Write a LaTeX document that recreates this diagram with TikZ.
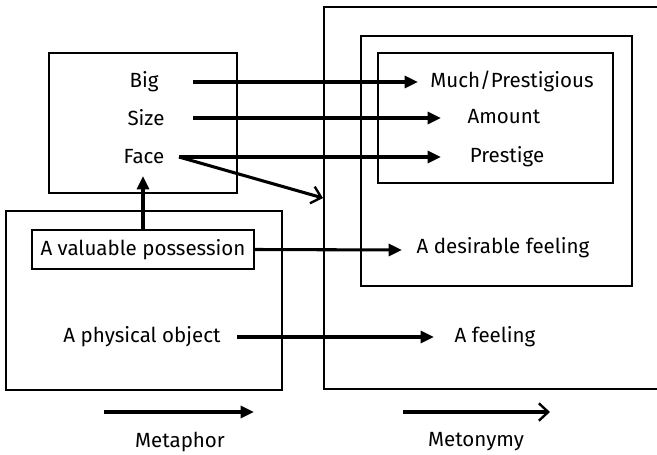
\documentclass[tikz,border=0pt]{standalone}
\usepackage{fontspec}
\setmainfont{Fira Sans}
\usetikzlibrary{arrows.meta}

\tikzset{
    frame/.style={draw, line width=1.2pt},
    lbl/.style={font=\fontsize{15.4}{17}\selectfont, inner sep=1pt},
    arr/.style={line width=2.3pt, -{Triangle[length=10pt, width=9pt]}},
    barb/.style={line width=2.3pt, -{Straight Barb[length=7pt, width=13pt, line width=1.8pt]}}
}

\begin{document}
\begin{tikzpicture}[x=0.75pt, y=-0.75pt]
    \useasboundingbox (0,0) rectangle (657,454);

    % boxes
    \draw[frame] (49,53) rectangle (237,193);
    \draw[frame] (6,211) rectangle (282,390);
    \draw[frame] (665,7) -- (324,7) -- (324,389) -- (665,389);
    \draw[frame] (361,36) rectangle (632,286);
    \draw[frame] (378,53) rectangle (613,183);

    % source side
    \node[lbl] (big) at (144,82) {Big};
    \node[lbl] (size) at (146,118) {Size};
    \node[lbl] (face) at (144,157) {Face};
    \node[lbl, draw, line width=1.2pt, minimum width=222*0.75pt, minimum height=39*0.75pt] (valuable) at (143,249.5) {A valuable possession};
    \node[lbl] (physical) at (142,337) {A physical object};

    % target side
    \node[lbl] (much) at (512,81) {Much/Prestigious};
    \node[lbl] (amount) at (504,117) {Amount};
    \node[lbl] (prestige) at (507,157) {Prestige};
    \node[lbl] (desirable) at (503,248) {A desirable feeling};
    \node[lbl] (feeling) at (495,337) {A feeling};

    % legend
    \node[lbl] (metaphor) at (180,442) {Metaphor};
    \node[lbl] (metonymy) at (476,442) {Metonymy};

    % arrow ends
    \coordinate (bigout) at (193,82);
    \coordinate (muchin) at (418,82);
    \coordinate (sizeout) at (193,118);
    \coordinate (amountin) at (441,118);
    \coordinate (faceout) at (179,157);
    \coordinate (prestigein) at (441,157);
    \coordinate (corner) at (323,198);
    \coordinate (desirablein) at (402,250);
    \coordinate (physicalout) at (237,337);
    \coordinate (feelingin) at (434,337);
    \coordinate (faceup) at (143,176);
    \coordinate (metaphorS) at (104,412);
    \coordinate (metaphorE) at (254,412);
    \coordinate (metonymyS) at (403,412);
    \coordinate (metonymyE) at (550,412);

    \draw[arr] (bigout) -- (muchin);
    \draw[arr] (sizeout) -- (amountin);
    \draw[arr] (faceout) -- (prestigein);
    \draw[barb] (faceout) -- (corner);
    \draw[arr] (valuable.north) -- (faceup);
    \draw[arr] (valuable.east) -- (desirablein);
    \draw[arr] (physicalout) -- (feelingin);
    \draw[arr] (metaphorS) -- (metaphorE);
    \draw[barb] (metonymyS) -- (metonymyE);
\end{tikzpicture}
\end{document}
